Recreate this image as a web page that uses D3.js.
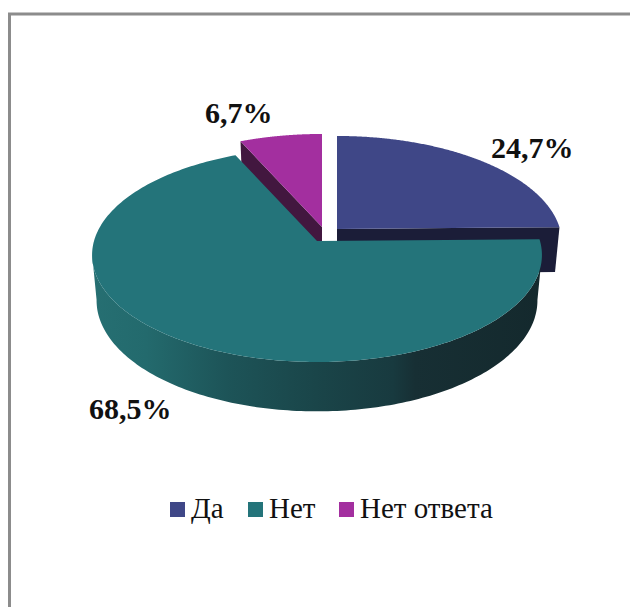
<!DOCTYPE html>
<html lang="ru">
<head>
<meta charset="utf-8">
<title>Круговая диаграмма</title>
<script src="https://cdn.jsdelivr.net/npm/d3@7"></script>
<style>
  html, body { margin: 0; padding: 0; background: #fff; }
  svg { display: block; }
  text { font-family: "Liberation Serif", "Times New Roman", serif; fill: #111; }
</style>
</head>
<body>
<svg id="chart" width="630" height="607"></svg>
<script>
// Answers and their shares, percent
const categories = ["Да", "Нет", "Нет ответа"];
const shares = [24.7, 68.5, 6.7];
const topColors = ["#3f4787", "#24747a", "#a32f9f"];
const sideColors = ["#1b1d38", "#1b4a4f", "#42173f"];

const W = 630, H = 607;
const svg = d3.select("#chart").attr("viewBox", [0, 0, W, H]);

// Frame: only the top and left rules fall inside the page
svg.append("path")
  .attr("d", d3.line()([[W, 14], [9.5, 14], [9.5, H]]))
  .attr("fill", "none").attr("stroke", "#8c8c8c").attr("stroke-width", 3);

// Disc geometry: a circle in perspective, tilted toward the viewer
const RADIUS = 223, TILT = 105.2, PERSPECTIVE = 0.1307;
const DEPTH = 45, BOTTOM_SCALE = 0.98;

// Where each slice's apex lands after being pulled out of the pie
const apex = [[337, 229], [317, 241], [322, 227]];

const color = d3.scaleOrdinal(categories, topColors);
const side = d3.scaleOrdinal(categories, sideColors);

const arcs = d3.pie().sort(null).value((d, i) => shares[i])(categories);

// Projects polar position (clockwise from 12 o'clock) on the top or bottom face
function project(i, angle, r, lower) {
  const u = r * Math.sin(angle), v = -r * Math.cos(angle);
  const s = 1 / (1 - PERSPECTIVE * v);
  const x = RADIUS * u * s, y = TILT * v * s;
  return lower
    ? [apex[i][0] + BOTTOM_SCALE * x, apex[i][1] + BOTTOM_SCALE * y + DEPTH * s]
    : [apex[i][0] + x, apex[i][1] + y];
}

const STEPS = 240;

function rim(i, a0, a1, lower) {
  return d3.range(0, STEPS + 1).map(k => project(i, a0 + (a1 - a0) * k / STEPS, 1, lower));
}

const closed = d3.line().curve(d3.curveLinearClosed);

function topFace(i) {
  const a = arcs[i];
  return closed([project(i, 0, 0, false), ...rim(i, a.startAngle, a.endAngle, false)]);
}
// Outer wall, limited to the stretch of rim between the slice's right and left extremes,
// so its silhouette runs straight from the top face to the bottom face
function wall(i) {
  const a = arcs[i];
  const t = rim(i, a.startAngle, a.endAngle, false);
  const b = rim(i, a.startAngle, a.endAngle, true);
  const from = d3.greatestIndex(t, p => p[0]);
  const to = d3.leastIndex(t, p => p[0]);
  return closed([...t.slice(from, to + 1), ...b.slice(from, to + 1).reverse()]);
}
function cutFace(i, angle) {
  return closed([project(i, 0, 0, false), project(i, angle, 1, false),
                 project(i, angle, 1, true), project(i, 0, 0, true)]);
}

// Shading along the outer wall of the large slice
const defs = svg.append("defs");
const grad = defs.append("linearGradient")
  .attr("id", "wallShade").attr("gradientUnits", "userSpaceOnUse")
  .attr("x1", 92).attr("x2", 541).attr("y1", 0).attr("y2", 0);
[[0, "#266f72"], [0.12, "#236a6d"], [0.3, "#1d5458"], [0.5, "#1a4549"],
 [0.67, "#183a3f"], [0.72, "#172f34"], [1, "#14292d"]]
  .forEach(([o, c]) => grad.append("stop").attr("offset", o).attr("stop-color", c));

const g = svg.append("g");

// Back slices first; the large slice overlaps them
[0, 2].forEach(i => {
  const a = arcs[i];
  g.append("path").attr("d", wall(i)).attr("fill", side(categories[i]));
  g.append("path").attr("d", cutFace(i, a.startAngle)).attr("fill", side(categories[i]));
  g.append("path").attr("d", cutFace(i, a.endAngle)).attr("fill", side(categories[i]));
  g.append("path").attr("d", topFace(i)).attr("fill", color(categories[i]));
});
g.append("path").attr("d", wall(1)).attr("fill", "url(#wallShade)");
g.append("path").attr("d", topFace(1)).attr("fill", color(categories[1]));

// Value labels
const fmt = v => v.toFixed(1).replace(".", ",") + "%";
const labelAt = [[491, 158], [89, 419], [205, 123]];
svg.selectAll("text.value").data(shares).join("text")
  .attr("class", "value")
  .attr("x", (d, i) => labelAt[i][0]).attr("y", (d, i) => labelAt[i][1])
  .attr("font-size", 30).attr("font-weight", 700)
  .text(fmt);

// Legend
const swatchX = [170, 248, 339];
const legend = svg.selectAll("g.key").data(categories).join("g")
  .attr("class", "key")
  .attr("transform", (d, i) => `translate(${swatchX[i]},502)`);
legend.append("rect").attr("width", 15).attr("height", 15).attr("fill", d => color(d));
legend.append("text").attr("x", 21).attr("y", 16).attr("font-size", 29).text(d => d);
</script>
</body>
</html>
